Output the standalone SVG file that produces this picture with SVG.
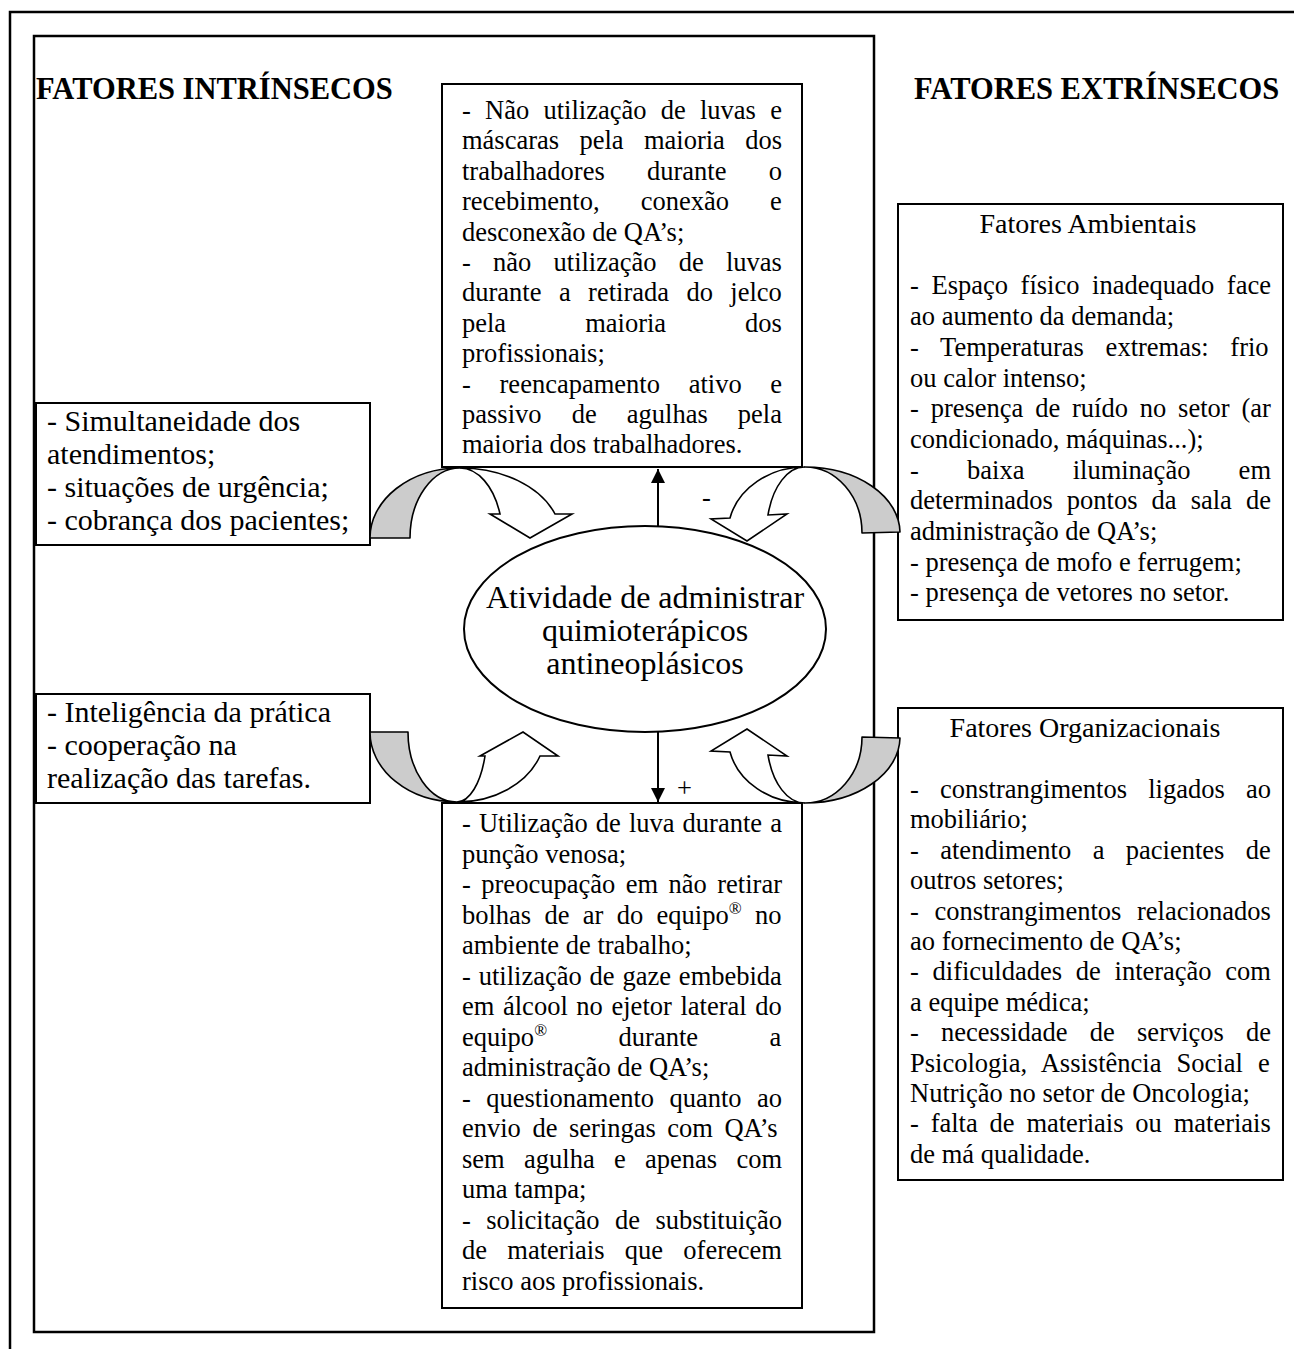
<svg xmlns="http://www.w3.org/2000/svg" width="1294" height="1349" viewBox="0 0 1294 1349">
<style>
.t{font-family:"Liberation Serif","Times New Roman",serif;font-size:26.5px;fill:#000}
.l{font-size:30px}
.e{font-size:32px}
.ti{font-size:28px}
.h{font-weight:bold;font-size:30.5px}
.box{fill:#fff;stroke:#000;stroke-width:2}
.frame{fill:none;stroke:#000;stroke-width:2.5}
.gray{fill:#cccccc;stroke:#000;stroke-width:1.6;stroke-linejoin:round}
.white{fill:#fff;stroke:#000;stroke-width:1.6;stroke-linejoin:miter}
.ln{stroke:#000;stroke-width:2;fill:none}
</style>
<defs>
<marker id="ah" viewBox="0 0 10 10" refX="10" refY="5" markerWidth="14" markerHeight="14" markerUnits="userSpaceOnUse" orient="auto">
<path d="M0,0 L10,5 L0,10 Z" fill="#000"/>
</marker>
</defs>
<rect width="1294" height="1349" fill="#fff"/>
<path class="frame" d="M10,1349 V12 H1294"/>
<rect id="inner" class="frame" x="34" y="36" width="840" height="1296"/>

<g id="header-intrinsecos"><text class="t h" x="36" y="99">FATORES INTRÍNSECOS</text></g>
<g id="header-extrinsecos"><text class="t h" x="914" y="99">FATORES EXTRÍNSECOS</text></g>

<g id="top-box">
<rect class="box" x="442" y="84" width="360" height="383"/>
<text class="t" x="462" y="119" word-spacing="7.62">- Não utilização de luvas e</text>
<text class="t" x="462" y="149.4" word-spacing="13.7">máscaras pela maioria dos</text>
<text class="t" x="462" y="179.8" word-spacing="35.6">trabalhadores durante o</text>
<text class="t" x="462" y="210.2" word-spacing="34.5">recebimento, conexão e</text>
<text class="t" x="462" y="240.6">desconexão de QA’s;</text>
<text class="t" x="462" y="271" word-spacing="15.6">- não utilização de luvas</text>
<text class="t" x="462" y="301.4" word-spacing="10.8">durante a retirada do jelco</text>
<text class="t" x="462" y="331.8" word-spacing="72.4">pela maioria dos</text>
<text class="t" x="462" y="362.2">profissionais;</text>
<text class="t" x="462" y="392.6" word-spacing="22.1">- reencapamento ativo e</text>
<text class="t" x="462" y="423" word-spacing="23.5">passivo de agulhas pela</text>
<text class="t" x="462" y="453.4">maioria dos trabalhadores.</text>
</g>

<g id="left-box-1">
<rect class="box" x="36" y="403" width="334" height="142"/>
<text class="t l" x="47" y="431">- Simultaneidade dos</text>
<text class="t l" x="47" y="464">atendimentos;</text>
<text class="t l" x="47" y="497">- situações de urgência;</text>
<text class="t l" x="47" y="530">- cobrança dos pacientes;</text>
</g>

<g id="left-box-2">
<rect class="box" x="36" y="694" width="334" height="109"/>
<text class="t l" x="47" y="722">- Inteligência da prática</text>
<text class="t l" x="47" y="755">- cooperação na</text>
<text class="t l" x="47" y="788">realização das tarefas.</text>
</g>

<g id="right-box-1">
<rect class="box" x="898" y="204" width="385" height="416"/>
<text class="t ti" x="1088" y="233" text-anchor="middle">Fatores Ambientais</text>
<text class="t" x="910" y="294.4" word-spacing="6.0">- Espaço físico inadequado face</text>
<text class="t" x="910" y="325.1">ao aumento da demanda;</text>
<text class="t" x="910" y="355.8" word-spacing="15.1">- Temperaturas extremas: frio</text>
<text class="t" x="910" y="386.5">ou calor intenso;</text>
<text class="t" x="910" y="417.2" word-spacing="5.2">- presença de ruído no setor (ar</text>
<text class="t" x="910" y="447.9">condicionado, máquinas...);</text>
<text class="t" x="910" y="478.6" word-spacing="41.6">- baixa iluminação em</text>
<text class="t" x="910" y="509.3" word-spacing="7.45">determinados pontos da sala de</text>
<text class="t" x="910" y="540">administração de QA’s;</text>
<text class="t" x="910" y="570.7">- presença de mofo e ferrugem;</text>
<text class="t" x="910" y="601.4">- presença de vetores no setor.</text>
</g>

<g id="right-box-2">
<rect class="box" x="898" y="708" width="385" height="472"/>
<text class="t ti" x="1085" y="737" text-anchor="middle">Fatores Organizacionais</text>
<text class="t" x="910" y="798" word-spacing="14.6">- constrangimentos ligados ao</text>
<text class="t" x="910" y="828.4">mobiliário;</text>
<text class="t" x="910" y="858.8" word-spacing="14.8">- atendimento a pacientes de</text>
<text class="t" x="910" y="889.2">outros setores;</text>
<text class="t" x="910" y="919.6" word-spacing="9.0">- constrangimentos relacionados</text>
<text class="t" x="910" y="950">ao fornecimento de QA’s;</text>
<text class="t" x="910" y="980.4" word-spacing="7.1">- dificuldades de interação com</text>
<text class="t" x="910" y="1010.8">a equipe médica;</text>
<text class="t" x="910" y="1041.2" word-spacing="15.6">- necessidade de serviços de</text>
<text class="t" x="910" y="1071.6" word-spacing="8.5">Psicologia, Assistência Social e</text>
<text class="t" x="910" y="1102">Nutrição no setor de Oncologia;</text>
<text class="t" x="910" y="1132.4" word-spacing="5.2">- falta de materiais ou materiais</text>
<text class="t" x="910" y="1162.8">de má qualidade.</text>
</g>

<g id="bottom-box">
<rect class="box" x="442" y="803" width="360" height="505"/>
<text class="t" x="462" y="832" word-spacing="1.44">- Utilização de luva durante a</text>
<text class="t" x="462" y="862.5">punção venosa;</text>
<text class="t" x="462" y="893" word-spacing="3.85">- preocupação em não retirar</text>
<text class="t" x="462" y="923.5" word-spacing="6.7">bolhas de ar do equipo<tspan dy="-10" font-size="17">®</tspan><tspan dy="10"> no</tspan></text>
<text class="t" x="462" y="954">ambiente de trabalho;</text>
<text class="t" x="462" y="984.5" word-spacing="1.25">- utilização de gaze embebida</text>
<text class="t" x="462" y="1015" word-spacing="2.0">em álcool no ejetor lateral do</text>
<text class="t" x="462" y="1045.5" word-spacing="64.9">equipo<tspan dy="-10" font-size="17">®</tspan><tspan dy="10"> durante a</tspan></text>
<text class="t" x="462" y="1076">administração de QA’s;</text>
<text class="t" x="462" y="1106.5" word-spacing="8.8">- questionamento quanto ao</text>
<text class="t" x="462" y="1137" word-spacing="4.9">envio de seringas com QA’s</text>
<text class="t" x="462" y="1167.5" word-spacing="12.7">sem agulha e apenas com</text>
<text class="t" x="462" y="1198">uma tampa;</text>
<text class="t" x="462" y="1228.5" word-spacing="8.8">- solicitação de substituição</text>
<text class="t" x="462" y="1259" word-spacing="13.7">de materiais que oferecem</text>
<text class="t" x="462" y="1289.5">risco aos profissionais.</text>
</g>

<g id="center-activity">
<ellipse class="box" cx="645" cy="629" rx="181" ry="103"/>
<text class="t e" x="645" y="608" text-anchor="middle">Atividade de administrar</text>
<text class="t e" x="645" y="641" text-anchor="middle">quimioterápicos</text>
<text class="t e" x="645" y="674" text-anchor="middle">antineoplásicos</text>
</g>

<g id="connectors">
<line class="ln" x1="658" y1="526" x2="658" y2="469" marker-end="url(#ah)"/>
<line class="ln" x1="658" y1="732" x2="658" y2="802" marker-end="url(#ah)"/>
<text class="t" x="702" y="506">-</text>
<text class="t" x="677" y="797">+</text>
<g id="arrow-top-left">
<path class="gray" d="M370,538 L410,538 A50,70 0 0 1 460,468 A90,70 0 0 0 370,538 Z"/>
<path class="white" d="M460,468 A101,70 0 0 1 555,514 L572,514 L530,538 L490,514 L500,514 A42.6,70 0 0 0 460,468 Z"/>
</g>
<g id="arrow-top-right">
<path class="gray" d="M900,532 L862,533 A57,66 0 0 0 805,467 A95,66 0 0 1 900,532 Z"/>
<path class="white" d="M805,467 A77,66 0 0 0 730,518 L711,519 L747,541 L787,514 L768,515 A38,66 0 0 1 805,467 Z"/>
</g>
<g id="arrow-bottom-left">
<path class="gray" d="M370,732 L408,732 A49,70 0 0 0 457,802 A87,70 0 0 1 370,732 Z"/>
<path class="white" d="M457,802 A88,70 0 0 0 540,756 L558,756 L523,732 L480,756 L485,756 A30,70 0 0 1 457,802 Z"/>
</g>
<g id="arrow-bottom-right">
<path class="gray" d="M900,738 L862,737 A57,66 0 0 1 805,803 A95,66 0 0 0 900,738 Z"/>
<path class="white" d="M805,803 A77,66 0 0 1 730,752 L711,751 L747,729 L787,756 L768,755 A38,66 0 0 0 805,803 Z"/>
</g>
</g>
</svg>
